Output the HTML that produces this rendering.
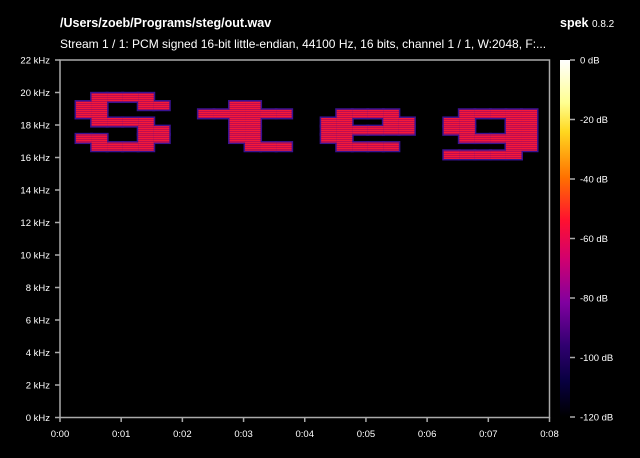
<!DOCTYPE html>
<html><head><meta charset="utf-8"><style>
html,body{margin:0;padding:0;background:#000;}
svg{display:block;font-family:"Liberation Sans",sans-serif;}
</style></head><body>
<svg id="chart" width="640" height="458" viewBox="0 0 640 458" xmlns="http://www.w3.org/2000/svg">
<defs>
<pattern id="stripes" width="4" height="2" patternUnits="userSpaceOnUse">
<rect width="4" height="2" fill="#c00c50"/>
<rect width="4" height="1" fill="#f41a38"/>
</pattern>
<linearGradient id="cbar" x1="0" y1="0" x2="0" y2="1">
<stop offset="0" stop-color="#ffffff"/>
<stop offset="0.12" stop-color="#ffff90"/>
<stop offset="0.2" stop-color="#ffd820"/>
<stop offset="0.33" stop-color="#ff7000"/>
<stop offset="0.45" stop-color="#ff1030"/>
<stop offset="0.56" stop-color="#d00070"/>
<stop offset="0.68" stop-color="#8000a0"/>
<stop offset="0.8" stop-color="#300070"/>
<stop offset="0.9" stop-color="#080040"/>
<stop offset="1" stop-color="#000000"/>
</linearGradient>
</defs>
<rect width="640" height="458" fill="#000"/>
<text x="60" y="27" fill="#fff" font-size="12.5" font-weight="bold">/Users/zoeb/Programs/steg/out.wav</text>
<text x="60" y="48" fill="#fff" font-size="12">Stream 1 / 1: PCM signed 16-bit little-endian, 44100 Hz, 16 bits, channel 1 / 1, W:2048, F:...</text>
<text x="560" y="27" fill="#fff" font-size="12.5"><tspan font-weight="bold">spek</tspan> <tspan font-size="10">0.8.2</tspan></text>
<g id="halo"></g>
<g id="marks"></g>
<rect x="60" y="60" width="489.5" height="357.5" fill="none" stroke="#aaa" stroke-width="1.5"/>
<g id="axes"></g>
<rect x="560" y="60" width="10" height="357" fill="url(#cbar)"/>
</svg>
<script>
// data
const letterBitmaps = [
 [".####.","##..##","##....",".####.","....##","##..##",".####.","......"],
 ["......","..##..","######","..##..","..##..","..##..","...###","......"],
 ["......","......",".####.","##..##","######","##....",".####.","......"],
 ["......","......",".#####","##..##","##..##",".#####","....##","#####."]
];
const letterStartSec = [0.262, 2.262, 4.268, 6.272];
const cellSec = 0.254;
const topRowKHz = 19.95;
const rowKHz = 0.505;
const freqTicks = [0,2,4,6,8,10,12,14,16,18,20,22];
const timeTicks = ["0:00","0:01","0:02","0:03","0:04","0:05","0:06","0:07","0:08"];
const dbTicks = [0,-20,-40,-60,-80,-100,-120];

const X0=60, X1=549.5, Y0=417.5, Y1=60;
const xScale = s => X0 + s*(X1-X0)/8;
const yScale = k => Y0 - k*(Y0-Y1)/22;
const dbScale = d => 60 + (-d)*(357/120);
const NS="http://www.w3.org/2000/svg";
const marks=document.getElementById('marks');
const halo=document.getElementById('halo');
const axes=document.getElementById('axes');

letterBitmaps.forEach((bm,li)=>{
  bm.forEach((row,ri)=>{
    for(let ci=0;ci<row.length;ci++){
      if(row[ci]!=='#') continue;
      const t0=letterStartSec[li]+ci*cellSec, t1=t0+cellSec;
      const fTop=topRowKHz-ri*rowKHz, fBot=fTop-rowKHz;
      const x=xScale(t0), y=yScale(fTop), w=xScale(t1)-x, h=yScale(fBot)-y;
      const hr=document.createElementNS(NS,'rect');
      hr.setAttribute('x',x-1.5);hr.setAttribute('y',y-1.5);
      hr.setAttribute('width',w+3);hr.setAttribute('height',h+3);
      hr.setAttribute('fill','#3a1290');
      
      
      halo.appendChild(hr);
      const r=document.createElementNS(NS,'rect');
      r.setAttribute('x',x);
      r.setAttribute('y',y);
      r.setAttribute('width',w);
      r.setAttribute('height',h);
      r.setAttribute('fill','url(#stripes)');
      
      
      marks.appendChild(r);
    }
  });
});

function line(x1,y1,x2,y2,name){
  const l=document.createElementNS(NS,'line');
  l.setAttribute('x1',x1);l.setAttribute('y1',y1);l.setAttribute('x2',x2);l.setAttribute('y2',y2);
  l.setAttribute('stroke','#aaa');l.setAttribute('stroke-width','1.5');
  
  
  axes.appendChild(l);
}
function text(x,y,s,anchor,name){
  const t=document.createElementNS(NS,'text');
  t.setAttribute('x',x);t.setAttribute('y',y);t.setAttribute('fill','#fff');
  t.setAttribute('font-size','9.5');t.setAttribute('text-anchor',anchor);
  t.textContent=s;
  
  
  axes.appendChild(t);
}
freqTicks.forEach(k=>{
  const y=yScale(k);
  line(55,y,60,y,'y-tick');
  text(50,y+3.5,k+' kHz','end','y-tick-label');
});
timeTicks.forEach((lab,i)=>{
  const x=xScale(i);
  line(x,417.5,x,422,'x-tick');
  text(x,437,lab,'middle','x-tick-label');
});
dbTicks.forEach(d=>{
  const y=dbScale(d);
  line(570,y,575,y,'colorbar-tick');
  text(580,y+3.5,d+' dB','start','colorbar-label');
});
</script>
</body></html>
